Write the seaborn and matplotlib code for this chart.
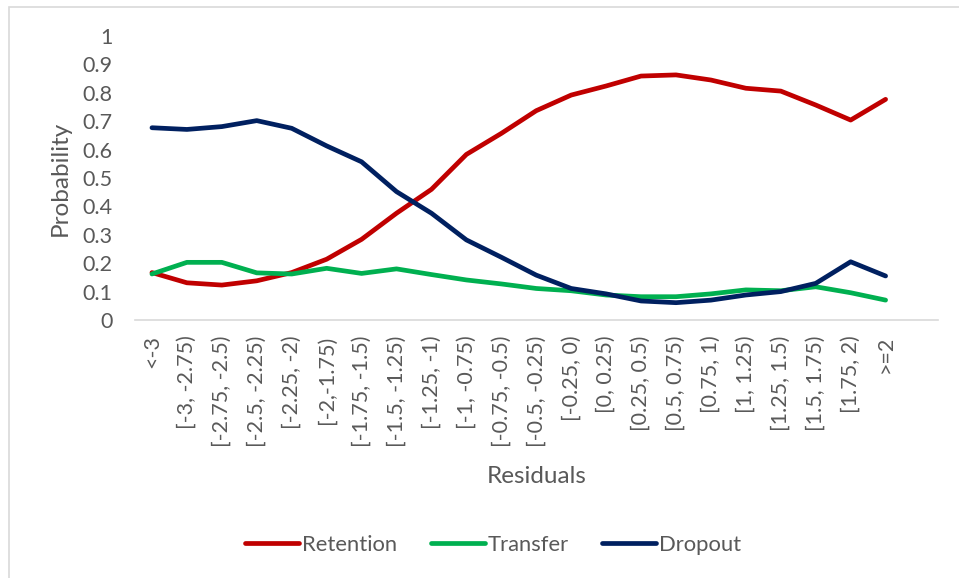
import matplotlib
matplotlib.use("Agg")
import matplotlib.pyplot as plt
from matplotlib.patches import Rectangle
from matplotlib.ticker import FuncFormatter
import numpy as np
import pandas as pd
import seaborn as sns

# Residual bins (the last slot is an empty category)
categories = ["<-3", "[-3, -2.75)", "[-2.75, -2.5)", "[-2.5, -2.25)", "[-2.25, -2)",
              "[-2,-1.75)", "[-1.75, -1.5)", "[-1.5, -1.25)", "[-1.25, -1)", "[-1, -0.75)",
              "[-0.75, -0.5)", "[-0.5, -0.25)", "[-0.25, 0)", "[0, 0.25)", "[0.25, 0.5)",
              "[0.5, 0.75)", "[0.75, 1)", "[1, 1.25)", "[1.25, 1.5)", "[1.5, 1.75)",
              "[1.75, 2)", ">=2", ""]

retention = [0.167, 0.131, 0.123, 0.138, 0.167, 0.214, 0.284, 0.376, 0.460, 0.583,
             0.657, 0.737, 0.792, 0.824, 0.859, 0.863, 0.845, 0.816, 0.806, 0.757,
             0.704, 0.777]
transfer = [0.162, 0.203, 0.203, 0.166, 0.162, 0.182, 0.164, 0.180, 0.160, 0.141,
            0.127, 0.111, 0.103, 0.088, 0.082, 0.082, 0.092, 0.106, 0.103, 0.117,
            0.096, 0.070]
dropout = [0.677, 0.671, 0.681, 0.702, 0.675, 0.613, 0.557, 0.452, 0.376, 0.282,
           0.221, 0.158, 0.111, 0.092, 0.067, 0.061, 0.070, 0.088, 0.100, 0.129,
           0.205, 0.155]

series_names = ["Retention", "Transfer", "Dropout"]
series_colors = ["#C00000", "#00B050", "#002060"]

n = len(retention)
df = pd.DataFrame({
    "pos": list(range(n)) * 3,
    "Probability": retention + transfer + dropout,
    "Series": sum([[s] * n for s in series_names], []),
})

sns.set_theme(style="white")
plt.rcParams["font.family"] = ["Lato", "DejaVu Sans"]
text_color = "#595959"

fig = plt.figure(figsize=(9.59, 5.78), dpi=100)
ax = fig.add_axes([134.5 / 959, 1 - 320 / 578, (938 - 134.5) / 959, (320 - 36) / 578])

sns.lineplot(data=df, x="pos", y="Probability", hue="Series",
             palette=dict(zip(series_names, series_colors)),
             linewidth=3.4, ax=ax, legend=True, sort=False)
for line in ax.lines:
    line.set_solid_capstyle("round")
    line.set_solid_joinstyle("round")

ax.set_xlim(-0.5, len(categories) - 0.5)
ax.set_ylim(0, 1)
ax.set_xticks(range(len(categories)))
ax.set_xticklabels(categories, rotation=90, fontsize=15.5, color=text_color)
ax.set_yticks(np.arange(0, 1.01, 0.1))
ax.yaxis.set_major_formatter(FuncFormatter(lambda v, p: f"{v:g}"))
ax.tick_params(axis="y", labelsize=15.5, labelcolor=text_color, length=0, pad=16)
ax.tick_params(axis="x", length=0, pad=11)

for side in ["top", "right", "left"]:
    ax.spines[side].set_visible(False)
ax.spines["bottom"].set_color("#D9D9D9")
ax.spines["bottom"].set_linewidth(1.2)

ax.set_xlabel("Residuals", fontsize=17.5, color=text_color, labelpad=14)
ax.set_ylabel("Probability", fontsize=17.5, color=text_color, labelpad=8)

handles, labels = ax.get_legend_handles_labels()
ax.legend(handles, labels, loc="center", bbox_to_anchor=(493 / 959, 1 - 545 / 578),
          bbox_transform=fig.transFigure, ncol=3, frameon=False, fontsize=15.8,
          handlelength=2.45, handletextpad=0.12, columnspacing=1.55,
          labelcolor=text_color)

# Chart frame
fig.patches.append(Rectangle((9 / 959, -0.1), 1.2, 1.1 - 7 / 578,
                             transform=fig.transFigure, fill=False,
                             edgecolor="#D9D9D9", linewidth=1.2))

fig.savefig("out.png", dpi=100, facecolor="white")
